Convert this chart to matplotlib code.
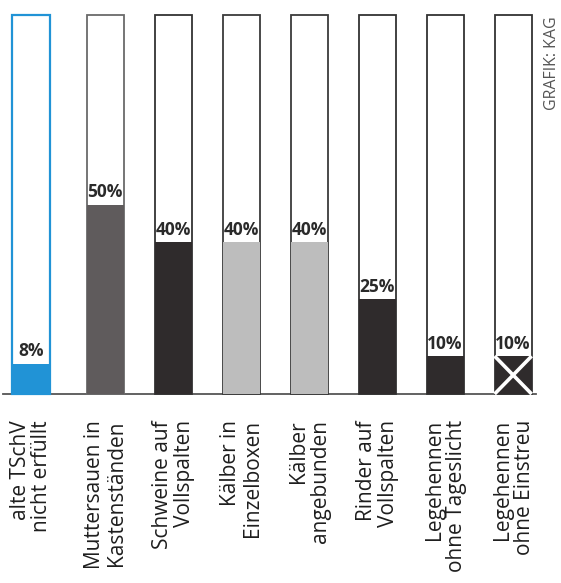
import numpy as np
import matplotlib
matplotlib.use('Agg')
import matplotlib.pyplot as plt
from matplotlib.patches import Rectangle

# data
labels = ['alte TSchV\nnicht erfüllt', 'Muttersauen in\nKastenständen',
          'Schweine auf\nVollspalten', 'Kälber in\nEinzelboxen',
          'Kälber\nangebunden', 'Rinder auf\nVollspalten',
          'Legehennen\nohne Tageslicht', 'Legehennen\nohne Einstreu']
values = [8, 50, 40, 40, 40, 25, 10, 10]
value_labels = ['8%', '50%', '40%', '40%', '40%', '25%', '10%', '10%']

# styles
fills = ['#2193d6', '#5f5b5c', '#2f2b2c', '#bdbdbd', '#bdbdbd', '#2f2b2c', '#2f2b2c', '#2f2b2c']
edges = ['#2193d6', '#6a6a6a', '#333333', '#3a3a3a', '#3a3a3a', '#333333', '#333333', '#333333']
xpos = np.arange(len(values)) + np.r_[0, np.full(len(values) - 1, 0.09)]
w = 0.545

plt.rcParams['font.family'] = ['Open Sans', 'DejaVu Sans']

fig = plt.figure(figsize=(5.61, 5.83), dpi=100)
ax = fig.add_axes([0, 0, 1, 1])
ax.set_xlim(-31 / 68, 530 / 68)
ax.set_ylim(-189 / 3.79, 394 / 3.79)
ax.axis('off')

# baseline
ax.plot([-0.41, xpos[-1] + w / 2 + 0.06], [0, 0], color='#555555', lw=1.3, zorder=1)

for i, v in enumerate(values):
    x0 = xpos[i] - w / 2
    ax.add_patch(Rectangle((x0, 0), w, 100, facecolor='white', edgecolor=edges[i],
                           lw=1.6 if i == 0 else 1.3, zorder=2))
    ax.add_patch(Rectangle((x0, 0), w, v, facecolor=fills[i], edgecolor='none', zorder=3))
    ax.text(xpos[i], v + 1.9, value_labels[i], ha='center', va='baseline',
            fontsize=12.5, fontweight='bold', color='#2a2a2a', zorder=4)
    ax.text(xpos[i], -6.9, labels[i], ha='center', va='top', rotation=90,
            multialignment='right', fontsize=15, fontweight='medium',
            color='#1e1e1e', linespacing=1.05)

# white cross on the last bar
xl = xpos[-1] - w / 2
xr = xpos[-1] + w / 2
ax.plot([xl, xr], [0, values[-1]], color='white', lw=2.6, zorder=4, solid_capstyle='butt')
ax.plot([xl, xr], [values[-1], 0], color='white', lw=2.6, zorder=4, solid_capstyle='butt')

fig.text(552 / 561, 1 - 16 / 583, 'GRAFIK: KAG', rotation=90, ha='center', va='top',
         fontsize=11.5, color='#555555')

fig.savefig('out.png', dpi=100, facecolor='white')
